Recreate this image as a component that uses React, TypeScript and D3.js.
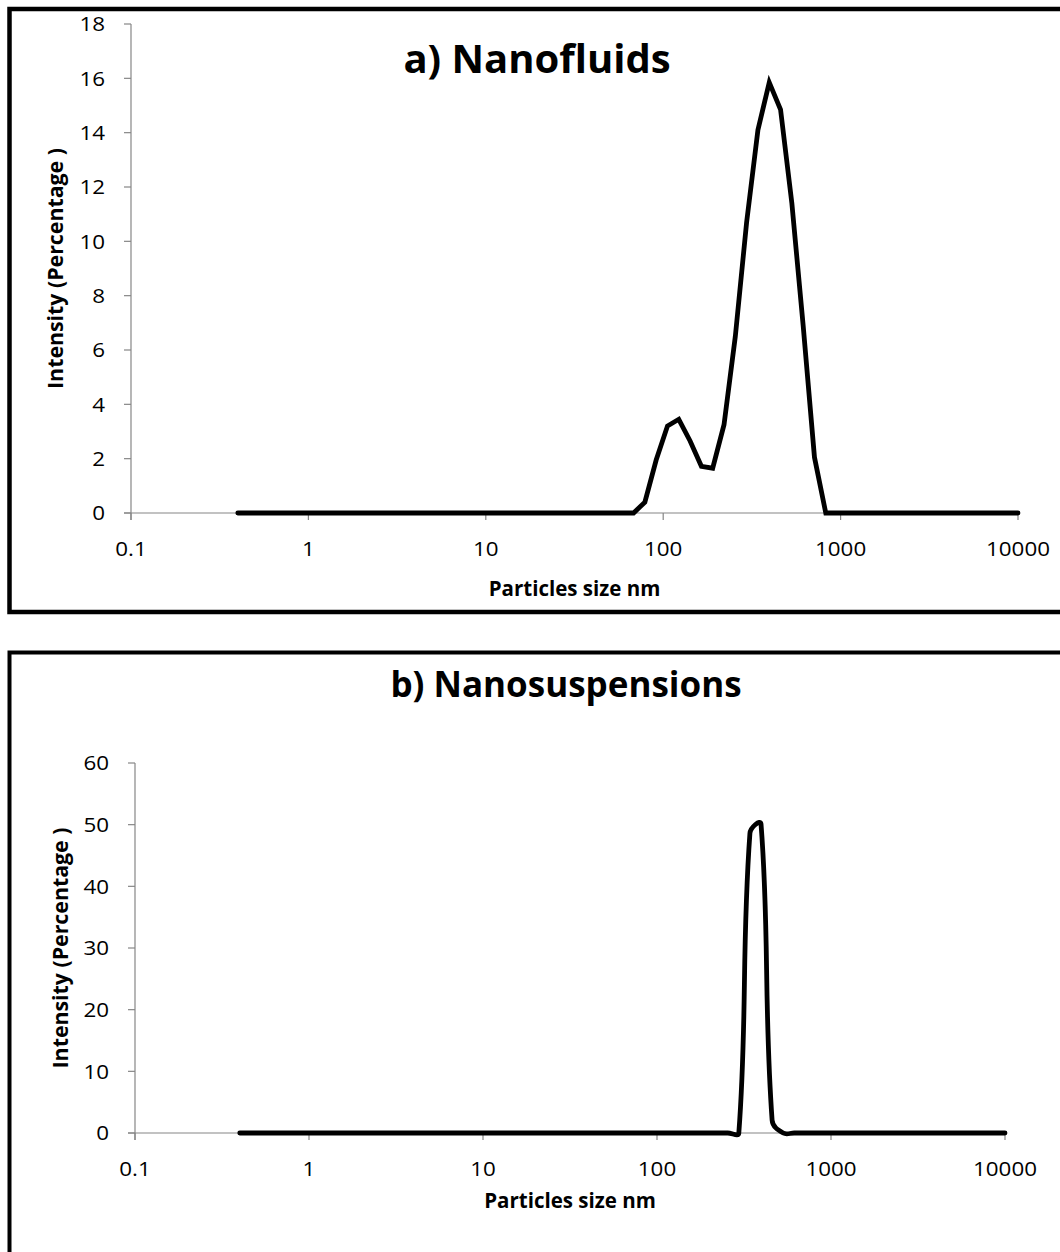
import React from "react";
import * as d3 from "d3";

// ---- data ----
const SIZES = [
  0.4, 0.4632, 0.5365, 0.6213, 0.7195, 0.8332, 0.9649, 1.117, 1.294, 1.499,
  1.736, 2.01, 2.328, 2.696, 3.122, 3.615, 4.187, 4.849, 5.615, 6.503,
  7.531, 8.721, 10.1, 11.7, 13.54, 15.69, 18.17, 21.04, 24.36, 28.21,
  32.67, 37.84, 43.82, 50.75, 58.77, 68.06, 78.82, 91.28, 105.7, 122.4,
  141.8, 164.2, 190.1, 220.2, 255, 295.3, 342, 396.1, 458.7, 531.2,
  615.1, 712.4, 825, 955.4, 1106, 1281, 1484, 1718, 1990, 2305,
  2669, 3091, 3580, 4145, 4801, 5560, 6439, 7456, 8635, 10000,
];

const INTENSITY_NANOFLUIDS = [
  0, 0, 0, 0, 0, 0, 0, 0, 0, 0,
  0, 0, 0, 0, 0, 0, 0, 0, 0, 0,
  0, 0, 0, 0, 0, 0, 0, 0, 0, 0,
  0, 0, 0, 0, 0, 0, 0.4, 1.95, 3.2, 3.45,
  2.65, 1.72, 1.65, 3.25, 6.5, 10.7, 14.1, 15.85, 14.85, 11.4,
  6.9, 2.05, 0, 0, 0, 0, 0, 0, 0, 0,
  0, 0, 0, 0, 0, 0, 0, 0, 0, 0,
];

const INTENSITY_NANOSUSPENSIONS = [
  0, 0, 0, 0, 0, 0, 0, 0, 0, 0,
  0, 0, 0, 0, 0, 0, 0, 0, 0, 0,
  0, 0, 0, 0, 0, 0, 0, 0, 0, 0,
  0, 0, 0, 0, 0, 0, 0, 0, 0, 0,
  0, 0, 0, 0, 0, 0, 48.6, 50.1, 2.1, 0,
  0, 0, 0, 0, 0, 0, 0, 0, 0, 0,
  0, 0, 0, 0, 0, 0, 0, 0, 0, 0,
];

const X_TICKS = [0.1, 1, 10, 100, 1000, 10000];
const X_TICK_LABELS = ["0.1", "1", "10", "100", "1000", "10000"];
const Y_TICKS_A = [0, 2, 4, 6, 8, 10, 12, 14, 16, 18];
const Y_TICKS_B = [0, 10, 20, 30, 40, 50, 60];

const TITLE_A = "a) Nanofluids";
const TITLE_B = "b) Nanosuspensions";
const X_TITLE = "Particles size nm";
const Y_TITLE = "Intensity (Percentage )";

const FONT = "'Open Sans', 'DejaVu Sans', sans-serif";
const AXIS = "#868686";

// Spreadsheet-style smoothed line: cubic Bezier with control arms proportional
// to adjacent segment lengths (avoids large overshoot on steep peaks).
function smoothPath(pts: [number, number][], t: number): string {
  const p = d3.path();
  const n = pts.length;
  if (!n) return "";
  p.moveTo(pts[0][0], pts[0][1]);
  const dist = (a: [number, number], b: [number, number]) =>
    Math.hypot(b[0] - a[0], b[1] - a[1]);
  const ctrl = (i: number) => {
    const prev = pts[Math.max(0, i - 1)];
    const cur = pts[i];
    const next = pts[Math.min(n - 1, i + 1)];
    const dIn = dist(prev, cur);
    const dOut = dist(cur, next);
    const sum = dIn + dOut || 1;
    const tx = next[0] - prev[0];
    const ty = next[1] - prev[1];
    const fIn = (t * dIn) / sum;
    const fOut = (t * dOut) / sum;
    return {
      cin: [cur[0] - tx * fIn, cur[1] - ty * fIn] as [number, number],
      cout: [cur[0] + tx * fOut, cur[1] + ty * fOut] as [number, number],
    };
  };
  const cs = pts.map((_, i) => ctrl(i));
  for (let i = 0; i < n - 1; i++) {
    const a = cs[i].cout;
    const b = cs[i + 1].cin;
    p.bezierCurveTo(a[0], a[1], b[0], b[1], pts[i + 1][0], pts[i + 1][1]);
  }
  return p.toString();
}

type PanelProps = {
  x0: number; x1: number; yTop: number; yBottom: number;
  yMax: number; yTicks: number[]; values: number[];
  smooth: boolean;
  title: string; titleX: number; titleY: number; titleSize: number;
  xTitleY: number; yTitleX: number;
};

function Panel(p: PanelProps) {
  const x = d3.scaleLog().domain([0.1, 10000]).range([p.x0, p.x1]);
  const y = d3.scaleLinear().domain([0, p.yMax]).range([p.yBottom, p.yTop]);
  const screen: [number, number][] = SIZES.map((s, i) => [x(s), y(p.values[i])]);
  const d = p.smooth
    ? smoothPath(screen, 0.4)
    : d3.line<[number, number]>().curve(d3.curveLinear)(screen) || "";
  const tick = 7;
  const tickFont = 20;
  const sx = 1.12;
  const midY = (p.yTop + p.yBottom) / 2;
  const midX = (p.x0 + p.x1) / 2;
  return (
    <g>
      {/* axes */}
      <line x1={p.x0} x2={p.x0} y1={p.yTop} y2={p.yBottom + tick} stroke={AXIS} strokeWidth={1.2} />
      <line x1={p.x0 - tick} x2={p.x1} y1={p.yBottom} y2={p.yBottom} stroke={AXIS} strokeWidth={1.2} />
      {p.yTicks.map((t) => (
        <g key={"y" + t}>
          <line x1={p.x0 - tick} x2={p.x0} y1={y(t)} y2={y(t)} stroke={AXIS} strokeWidth={1.2} />
          <text
            transform={`translate(${p.x0 - 26},${y(t)}) scale(${sx},1)`}
            dy="0.36em"
            textAnchor="end"
            fontFamily={FONT}
            fontSize={tickFont}
            fill="#000"
          >
            {t}
          </text>
        </g>
      ))}
      {X_TICKS.map((t, i) => (
        <g key={"x" + t}>
          <line x1={x(t)} x2={x(t)} y1={p.yBottom} y2={p.yBottom + tick} stroke={AXIS} strokeWidth={1.2} />
          <text
            transform={`translate(${x(t)},${p.yBottom + 43}) scale(${sx},1)`}
            textAnchor="middle"
            fontFamily={FONT}
            fontSize={tickFont}
            fill="#000"
          >
            {X_TICK_LABELS[i]}
          </text>
        </g>
      ))}
      {/* data line */}
      <path
        d={d}
        fill="none"
        stroke="#000"
        strokeWidth={4.8}
        strokeLinecap="round"
        strokeLinejoin="miter"
        strokeMiterlimit={4}
      />
      {/* titles */}
      <text
        x={p.titleX}
        y={p.titleY}
        textAnchor="middle"
        fontFamily={FONT}
        fontWeight="bold"
        fontSize={p.titleSize}
        fill="#000"
      >
        {p.title}
      </text>
      <text
        x={midX}
        y={p.xTitleY}
        textAnchor="middle"
        fontFamily={FONT}
        fontWeight="bold"
        fontSize={20.5}
        fill="#000"
      >
        {X_TITLE}
      </text>
      <text
        transform={`translate(${p.yTitleX},${midY}) rotate(-90) scale(1.04,1)`}
        textAnchor="middle"
        fontFamily={FONT}
        fontWeight="bold"
        fontSize={20.5}
        fill="#000"
      >
        {Y_TITLE}
      </text>
    </g>
  );
}

export default function App() {
  return (
    <svg
      width={1060}
      height={1252}
      style={{ position: "absolute", left: 0, top: 0, display: "block", background: "#fff" }}
    >
      <rect x={0} y={0} width={1060} height={1252} fill="#fff" />
      {/* frames */}
      <rect x={9.5} y={9} width={1080} height={603} fill="none" stroke="#000" strokeWidth={4.5} />
      <rect x={9.5} y={652.5} width={1080} height={700} fill="none" stroke="#000" strokeWidth={4} />
      <Panel
        x0={131}
        x1={1018}
        yTop={24}
        yBottom={513}
        yMax={18}
        yTicks={Y_TICKS_A}
        values={INTENSITY_NANOFLUIDS}
        smooth={false}
        title={TITLE_A}
        titleX={537}
        titleY={73}
        titleSize={40}
        xTitleY={596}
        yTitleX={63}
      />
      <Panel
        x0={135}
        x1={1005}
        yTop={763}
        yBottom={1133}
        yMax={60}
        yTicks={Y_TICKS_B}
        values={INTENSITY_NANOSUSPENSIONS}
        smooth={true}
        title={TITLE_B}
        titleX={566}
        titleY={697}
        titleSize={35}
        xTitleY={1208}
        yTitleX={68}
      />
    </svg>
  );
}
